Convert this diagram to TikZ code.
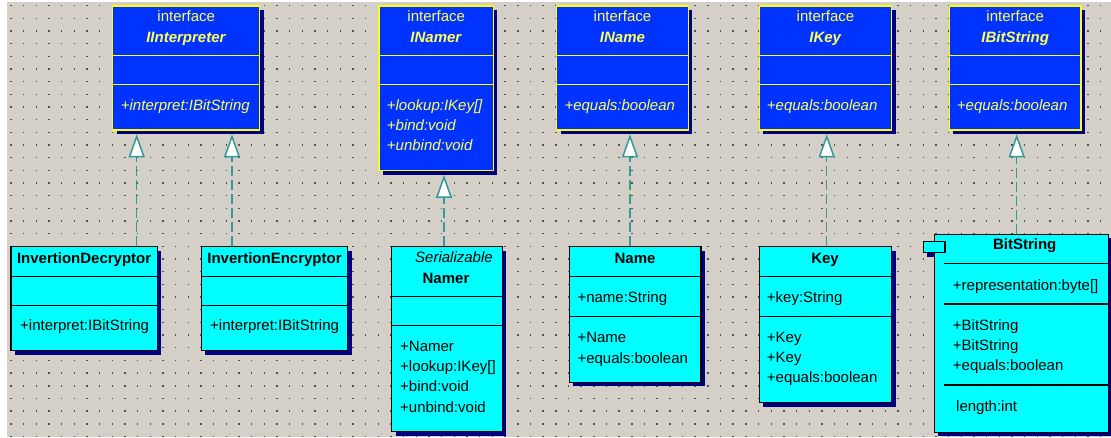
\documentclass[tikz,border=0pt]{standalone}
\usepackage{fontspec}
\setmainfont{Liberation Sans}
\usetikzlibrary{arrows.meta,shadows}
\definecolor{bggray}{RGB}{212,208,200}
\definecolor{dotgray}{RGB}{80,80,80}
\definecolor{ifblue}{RGB}{0,51,255}
\definecolor{ifyellow}{RGB}{255,255,0}
\definecolor{iftext}{RGB}{255,255,90}
\definecolor{clcyan}{RGB}{0,255,255}
\definecolor{shadownavy}{RGB}{0,0,128}
\definecolor{realteal}{RGB}{51,153,153}
\begin{document}
\begin{tikzpicture}[x=1pt,y=-1pt,
  font=\fontsize{15}{18}\selectfont,
  boxshadow/.style={drop shadow={shadow xshift=4pt,shadow yshift=-4pt,fill=shadownavy,opacity=1}},
  iface/.style={rectangle,draw=ifyellow,fill=ifblue,line width=1.5pt,inner sep=0pt,boxshadow},
  cls/.style={rectangle,draw=black,fill=clcyan,line width=1.5pt,inner sep=0pt,boxshadow},
  ifline/.style={draw=ifyellow,line width=1.5pt},
  clline/.style={draw=black,line width=1.5pt},
  iftxt/.style={text=iftext,inner sep=0pt,text height=11pt,text depth=3pt},
  cltxt/.style={text=black,inner sep=0pt,text height=11pt,text depth=3pt},
  realize/.style={draw=realteal,line width=1.5pt,dash pattern=on 10pt off 4pt,
    -{Triangle[length=23pt,width=16pt,fill=white]},shorten >=3.5pt}
]
\useasboundingbox (0,0) rectangle (1111,437);
\fill[white] (0,0) rectangle (1111,437);
\fill[bggray] (7,2) rectangle (1111,437);
\foreach \j in {0,...,34}
  \draw[dotgray,line width=1.4pt,dash pattern=on 1.4pt off 11.27pt] (10.3,{5.7+12.67*\j}) -- (1111,{5.7+12.67*\j});

% ---------- interfaces ----------
\node[iface,minimum width=147pt,minimum height=124pt] (IInterp) at (186.2,68) {};
\draw[ifline] (IInterp.west |- 0,55.3) -- (IInterp.east |- 0,55.3);
\draw[ifline] (IInterp.west |- 0,84.7) -- (IInterp.east |- 0,84.7);
\node[iftxt] (IInterpK) at (186.2,17.3) {interface};
\node[iftxt] (IInterpN) at (186.2,38.3) {\textbf{\textit{IInterpreter}}};
\node[iftxt,anchor=west] (IInterpM1) at (120.7,106.7) {\textit{+interpret:IBitString}};

\node[iface,minimum width=114.3pt,minimum height=164.7pt] (INamer) at (436.2,88.35) {};
\draw[ifline] (INamer.west |- 0,55.3) -- (INamer.east |- 0,55.3);
\draw[ifline] (INamer.west |- 0,84.7) -- (INamer.east |- 0,84.7);
\node[iftxt] (INamerK) at (436.2,17.3) {interface};
\node[iftxt] (INamerN) at (436.2,38.3) {\textbf{\textit{INamer}}};
\node[iftxt,anchor=west] (INamerM1) at (386.7,106.7) {\textit{+lookup:IKey[]}};
\node[iftxt,anchor=west] (INamerM2) at (386.7,126.7) {\textit{+bind:void}};
\node[iftxt,anchor=west] (INamerM3) at (386.7,146.7) {\textit{+unbind:void}};

\node[iface,minimum width=131.6pt,minimum height=124pt] (IName) at (622.5,68) {};
\draw[ifline] (IName.west |- 0,55.3) -- (IName.east |- 0,55.3);
\draw[ifline] (IName.west |- 0,84.7) -- (IName.east |- 0,84.7);
\node[iftxt] (INameK) at (622.5,17.3) {interface};
\node[iftxt] (INameN) at (622.5,38.3) {\textbf{\textit{IName}}};
\node[iftxt,anchor=west] (INameM1) at (564.3,106.7) {\textit{+equals:boolean}};

\node[iface,minimum width=132.4pt,minimum height=124pt] (IKey) at (825.5,68) {};
\draw[ifline] (IKey.west |- 0,55.3) -- (IKey.east |- 0,55.3);
\draw[ifline] (IKey.west |- 0,84.7) -- (IKey.east |- 0,84.7);
\node[iftxt] (IKeyK) at (825.5,17.3) {interface};
\node[iftxt] (IKeyN) at (825.5,38.3) {\textbf{\textit{IKey}}};
\node[iftxt,anchor=west] (IKeyM1) at (766.7,106.7) {\textit{+equals:boolean}};

\node[iface,minimum width=131.7pt,minimum height=124pt] (IBitStr) at (1015.2,68) {};
\draw[ifline] (IBitStr.west |- 0,55.3) -- (IBitStr.east |- 0,55.3);
\draw[ifline] (IBitStr.west |- 0,84.7) -- (IBitStr.east |- 0,84.7);
\node[iftxt] (IBitStrK) at (1015.2,17.3) {interface};
\node[iftxt] (IBitStrN) at (1015.2,38.3) {\textbf{\textit{IBitString}}};
\node[iftxt,anchor=west] (IBitStrM1) at (956.7,106.7) {\textit{+equals:boolean}};

% ---------- classes ----------
\node[cls,minimum width=146.3pt,minimum height=104pt] (InvDec) at (84.15,298.7) {};
\draw[clline] (InvDec.west |- 0,276.7) -- (InvDec.east |- 0,276.7);
\draw[clline] (InvDec.west |- 0,305.7) -- (InvDec.east |- 0,305.7);
\node[cltxt] (InvDecN) at (84.15,259) {\textbf{InvertionDecryptor}};
\node[cltxt,anchor=west] (InvDecM1) at (20,326.7) {+interpret:IBitString};

\node[cls,minimum width=146.4pt,minimum height=104pt] (InvEnc) at (274.5,298.7) {};
\draw[clline] (InvEnc.west |- 0,276.7) -- (InvEnc.east |- 0,276.7);
\draw[clline] (InvEnc.west |- 0,305.7) -- (InvEnc.east |- 0,305.7);
\node[cltxt] (InvEncN) at (274.5,259) {\textbf{InvertionEncryptor}};
\node[cltxt,anchor=west] (InvEncM1) at (210,326.7) {+interpret:IBitString};

\node[cls,minimum width=110.6pt,minimum height=185pt] (Namer) at (447,339.2) {};
\draw[clline] (Namer.west |- 0,296.7) -- (Namer.east |- 0,296.7);
\draw[clline] (Namer.west |- 0,325.7) -- (Namer.east |- 0,325.7);
\node[cltxt] (NamerS) at (454,258.3) {\textit{Serializable}};
\node[cltxt] (NamerN) at (446,279) {\textbf{Namer}};
\node[cltxt,anchor=west] (NamerM1) at (400,347) {+Namer};
\node[cltxt,anchor=west] (NamerM2) at (400,367) {+lookup:IKey[]};
\node[cltxt,anchor=west] (NamerM3) at (400,387.5) {+bind:void};
\node[cltxt,anchor=west] (NamerM4) at (400,408) {+unbind:void};

\node[cls,minimum width=131.7pt,minimum height=135.6pt] (Name) at (635.15,314.5) {};
\draw[clline] (Name.west |- 0,276.7) -- (Name.east |- 0,276.7);
\draw[clline] (Name.west |- 0,316.7) -- (Name.east |- 0,316.7);
\node[cltxt] (NameN) at (635,259) {\textbf{Name}};
\node[cltxt,anchor=west] (NameA1) at (577.3,298.3) {+name:String};
\node[cltxt,anchor=west] (NameM1) at (577.3,338.3) {+Name};
\node[cltxt,anchor=west] (NameM2) at (577.3,359) {+equals:boolean};

\node[cls,minimum width=132.4pt,minimum height=156pt] (Key) at (825.5,324.7) {};
\draw[clline] (Key.west |- 0,276.7) -- (Key.east |- 0,276.7);
\draw[clline] (Key.west |- 0,316.7) -- (Key.east |- 0,316.7);
\node[cltxt] (KeyN) at (825,259) {\textbf{Key}};
\node[cltxt,anchor=west] (KeyA1) at (766.7,298) {+key:String};
\node[cltxt,anchor=west] (KeyM1) at (766.7,338) {+Key};
\node[cltxt,anchor=west] (KeyM2) at (766.7,358) {+Key};
\node[cltxt,anchor=west] (KeyM3) at (766.7,378.7) {+equals:boolean};

\fill[shadownavy] (927.3,245.3) rectangle (949,256.7);
\node[cls,minimum width=174.2pt,minimum height=198pt] (BitStr) at (1021.4,333.3) {};
\node[rectangle,draw=black,fill=clcyan,line width=1.5pt,inner sep=0pt,minimum width=21.7pt,minimum height=11.4pt] (BitStrTab) at (934.15,247) {};
\coordinate (BitStrL) at (944,0);
\draw[clline] (BitStrL |- 0,263.3) -- (BitStr.east |- 0,263.3);
\draw[clline] (BitStrL |- 0,304) -- (BitStr.east |- 0,304);
\draw[clline] (BitStrL |- 0,385) -- (BitStr.east |- 0,385);
\node[cltxt] (BitStrN) at (1024.7,245.7) {\textbf{BitString}};
\node[cltxt,anchor=west] (BitStrA1) at (952.7,286) {+representation:byte[]};
\node[cltxt,anchor=west] (BitStrM1) at (952.7,326) {+BitString};
\node[cltxt,anchor=west] (BitStrM2) at (952.7,346) {+BitString};
\node[cltxt,anchor=west] (BitStrM3) at (952.7,366.7) {+equals:boolean};
\node[cltxt,anchor=west] (BitStrM4) at (956,407.7) {length:int};

% ---------- realizations ----------
\coordinate (c1) at (136.7,0);
\coordinate (c2) at (232,0);
\coordinate (c3) at (444,0);
\coordinate (c4) at (630,0);
\coordinate (c5) at (826.7,0);
\coordinate (c6) at (1016.7,0);
\draw[realize] (InvDec.north -| c1) -- (IInterp.south -| c1);
\draw[realize] (InvEnc.north -| c2) -- (IInterp.south -| c2);
\draw[realize] (Namer.north -| c3) -- (INamer.south -| c3);
\draw[realize] (Name.north -| c4) -- (IName.south -| c4);
\draw[realize] (Key.north -| c5) -- (IKey.south -| c5);
\draw[realize] (BitStr.north -| c6) -- (IBitStr.south -| c6);
\end{tikzpicture}
\end{document}
